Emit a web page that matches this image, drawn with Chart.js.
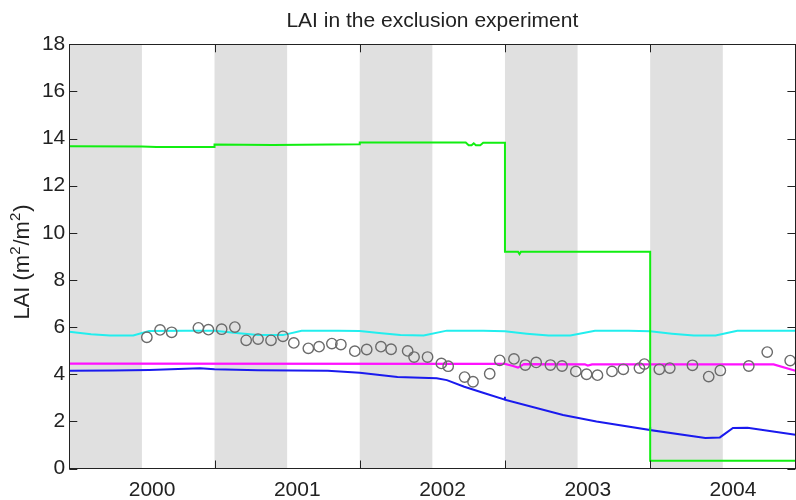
<!DOCTYPE html>
<html>
<head>
<meta charset="utf-8">
<script src="https://cdn.jsdelivr.net/npm/chart.js@4.4.1/dist/chart.umd.min.js"></script>
<style>
  html, body { margin: 0; padding: 0; background: #fff; overflow: hidden; width: 796px; height: 500px; }
  #wrap { width: 802px; height: 500px; position: relative; }
</style>
</head>
<body>
<div id="wrap"><canvas id="c" width="802" height="500"></canvas></div>
<script>
// ---- data (x in decimal years) ----
const yearLabels   = ['2000', '2001', '2002', '2003', '2004'];
const yearLabelPos = [2000.57, 2001.57, 2002.57, 2003.57, 2004.57];
const yearBounds   = [2000, 2001, 2002, 2003, 2004, 2005];
const shadedStarts = [2000, 2001, 2002, 2003, 2004];   // first half of each year shaded
const yTickValues  = [0, 2, 4, 6, 8, 10, 12, 14, 16, 18];

// observed LAI
const obsX = [2000.534, 2000.625, 2000.705, 2000.889, 2000.958, 2001.049, 2001.140, 2001.218,
              2001.300, 2001.389, 2001.471, 2001.546, 2001.646, 2001.720, 2001.808, 2001.870,
              2001.966, 2002.048, 2002.146, 2002.216, 2002.330, 2002.374, 2002.467, 2002.562,
              2002.609, 2002.722, 2002.780, 2002.895, 2002.964, 2003.062, 2003.140, 2003.215,
              2003.313, 2003.393, 2003.488, 2003.562, 2003.637, 2003.737, 2003.815, 2003.926,
              2003.960, 2004.063, 2004.135, 2004.291, 2004.403, 2004.483, 2004.679, 2004.806,
              2004.964];
const obsY = [5.57, 5.88, 5.78, 5.97, 5.89, 5.91, 6.00, 5.44,
              5.49, 5.44, 5.61, 5.33, 5.10, 5.17, 5.30, 5.26,
              4.98, 5.05, 5.17, 5.06, 4.99, 4.73, 4.73, 4.46,
              4.34, 3.88, 3.68, 4.02, 4.59, 4.65, 4.39, 4.50,
              4.39, 4.35, 4.12, 4.00, 3.96, 4.12, 4.21, 4.26,
              4.43, 4.21, 4.26, 4.38, 3.90, 4.16, 4.35, 4.94,
              4.58];

// modelled LAI, four runs
const greenX = [2000.0, 2000.5, 2000.6, 2001.0, 2001.0, 2001.4, 2002.0, 2002.0, 2002.73, 2002.75,
                2002.77, 2002.785, 2002.80, 2002.83, 2002.85, 2003.0, 2003.0, 2003.09, 2003.10,
                2003.11, 2004.0, 2004.0, 2005.0];
const greenY = [13.67, 13.66, 13.64, 13.64, 13.75, 13.73, 13.76, 13.83, 13.83, 13.72,
                13.72, 13.80, 13.72, 13.72, 13.82, 13.82, 9.20, 9.20, 9.10,
                9.20, 9.20, 0.33, 0.33];

const cyanX = [2000.0, 2000.15, 2000.28, 2000.44, 2000.55, 2000.8, 2001.0, 2001.15, 2001.3, 2001.47,
               2001.6, 2001.85, 2002.0, 2002.15, 2002.28, 2002.44, 2002.6, 2002.85, 2003.0, 2003.15,
               2003.3, 2003.45, 2003.62, 2003.85, 2004.0, 2004.15, 2004.3, 2004.45, 2004.6, 2004.85,
               2005.0];
const cyanY = [5.80, 5.70, 5.64, 5.64, 5.83, 5.84, 5.84, 5.75, 5.67, 5.66,
               5.84, 5.85, 5.83, 5.74, 5.66, 5.64, 5.85, 5.85, 5.82, 5.72,
               5.64, 5.64, 5.84, 5.85, 5.82, 5.72, 5.64, 5.64, 5.84, 5.85,
               5.85];

const magentaX = [2000.0, 2003.0, 2003.05, 2003.09, 2003.13, 2003.55, 2003.57, 2003.60, 2004.85, 2005.0];
const magentaY = [4.45, 4.44, 4.36, 4.28, 4.43, 4.42, 4.37, 4.42, 4.42, 4.15];

const blueX = [2000.0, 2000.3, 2000.55, 2000.9, 2001.0, 2001.3, 2001.78, 2002.0, 2002.26, 2002.53,
               2002.60, 2002.72, 2002.86, 2003.0, 2003.0, 2003.0, 2003.4, 2003.63, 2004.0, 2004.0,
               2004.0, 2004.38, 2004.48, 2004.57, 2004.67, 2005.0];
const blueY = [4.15, 4.16, 4.18, 4.25, 4.21, 4.17, 4.15, 4.06, 3.88, 3.83,
               3.75, 3.47, 3.19, 2.92, 3.04, 2.92, 2.27, 1.99, 1.63, 1.75,
               1.63, 1.29, 1.32, 1.72, 1.73, 1.43];

// ---- drawing ----
const FONT = "'Liberation Sans', Arial, Helvetica, sans-serif";
const pts = (xs, ys) => xs.map((x, i) => ({ x: x, y: ys[i] }));
const curve = (xs, ys, color, width, order) => ({
  type: 'line', data: pts(xs, ys), borderColor: color, borderWidth: width,
  pointRadius: 0, tension: 0, fill: false, order: order
});

// shaded half-year bands behind the data
const bandsPlugin = {
  id: 'bands',
  beforeDatasetsDraw(chart) {
    const { ctx, chartArea: a, scales: { x } } = chart;
    ctx.save();
    ctx.fillStyle = '#e0e0e0';
    shadedStarts.forEach(s => {
      const x0 = x.getPixelForValue(s), x1 = x.getPixelForValue(s + 0.5);
      ctx.fillRect(x0, a.top, x1 - x0, a.bottom - a.top);
    });
    ctx.restore();
  }
};

// y-axis label with raised exponents: [text, superscript?]
const yLabelParts = [['LAI (m', false], ['2', true], ['/m', false], ['2', true], [')', false]];

// axes box, inward tick marks, title and y-axis label
const framePlugin = {
  id: 'frame',
  afterDatasetsDraw(chart) {
    const { ctx, chartArea: a, scales: { x, y } } = chart;
    ctx.save();
    ctx.strokeStyle = '#222';
    ctx.lineWidth = 1;
    ctx.beginPath();
    yTickValues.forEach(v => {
      const py = Math.round(y.getPixelForValue(v)) + 0.5;
      ctx.moveTo(a.left, py); ctx.lineTo(a.left + 8, py);
      ctx.moveTo(a.right, py); ctx.lineTo(a.right - 8, py);
    });
    yearBounds.forEach(v => {
      const px = Math.round(x.getPixelForValue(v)) + 0.5;
      ctx.moveTo(px, a.bottom); ctx.lineTo(px, a.bottom - 8);
      ctx.moveTo(px, a.top); ctx.lineTo(px, a.top + 8);
    });
    ctx.stroke();
    ctx.strokeRect(Math.round(a.left) + 0.5, Math.round(a.top) + 0.5,
                   Math.round(a.right - a.left), Math.round(a.bottom - a.top));

    ctx.fillStyle = '#222';
    ctx.font = '21px ' + FONT;
    ctx.textAlign = 'center';
    ctx.textBaseline = 'alphabetic';
    ctx.fillText('LAI in the exclusion experiment', (a.left + a.right) / 2, 27);

    // rotated y label
    const normal = '22px ' + FONT, sup = '15px ' + FONT;
    ctx.textAlign = 'left';
    let total = 0;
    yLabelParts.forEach(([t, s]) => { ctx.font = s ? sup : normal; total += ctx.measureText(t).width + (s ? 1 : 0); });
    ctx.translate(29, 262);
    ctx.rotate(-Math.PI / 2);
    let cx = -total / 2;
    yLabelParts.forEach(([t, s]) => {
      ctx.font = s ? sup : normal;
      ctx.fillText(t, cx, s ? -9 : 0);
      cx += ctx.measureText(t).width + (s ? 1 : 0);
    });
    ctx.restore();
  }
};

new Chart(document.getElementById('c'), {
  data: {
    datasets: [
      {
        type: 'scatter', data: pts(obsX, obsY), showLine: false,
        pointStyle: 'circle', pointRadius: 5.2, borderWidth: 1.4,
        borderColor: '#6b6b6b', backgroundColor: 'rgba(0,0,0,0)', order: 0
      },
      curve(greenX, greenY, '#11ee11', 2, 1),
      curve(cyanX, cyanY, '#22eeee', 2, 2),
      curve(magentaX, magentaY, '#ff11ff', 2.2, 3),
      curve(blueX, blueY, '#1a1aee', 2, 4)
    ]
  },
  plugins: [bandsPlugin, framePlugin],
  options: {
    responsive: false,
    animation: false,
    devicePixelRatio: 1,
    events: [],
    layout: { padding: { top: 44.3, right: 0, left: 0, bottom: 0 } },
    plugins: { legend: { display: false }, tooltip: { enabled: false }, title: { display: false } },
    scales: {
      x: {
        type: 'linear', min: 2000, max: 2005,
        grid: { display: false, drawTicks: false, tickLength: 0 }, border: { display: false },
        afterBuildTicks: s => { s.ticks = yearLabelPos.map(v => ({ value: v })); },
        afterFit: s => { s.height = 31.5; },
        ticks: {
          autoSkip: false, maxRotation: 0, padding: 9, color: '#222',
          font: { family: FONT, size: 21 },
          callback: (v, i) => yearLabels[i]
        }
      },
      y: {
        type: 'linear', min: 0, max: 18,
        grid: { display: false, drawTicks: false, tickLength: 0 }, border: { display: false },
        afterBuildTicks: s => { s.ticks = yTickValues.map(v => ({ value: v })); },
        afterFit: s => { s.width = 69.3; },
        ticks: { padding: 4, color: '#222', font: { family: FONT, size: 21 } }
      }
    }
  }
});
</script>
</body>
</html>
